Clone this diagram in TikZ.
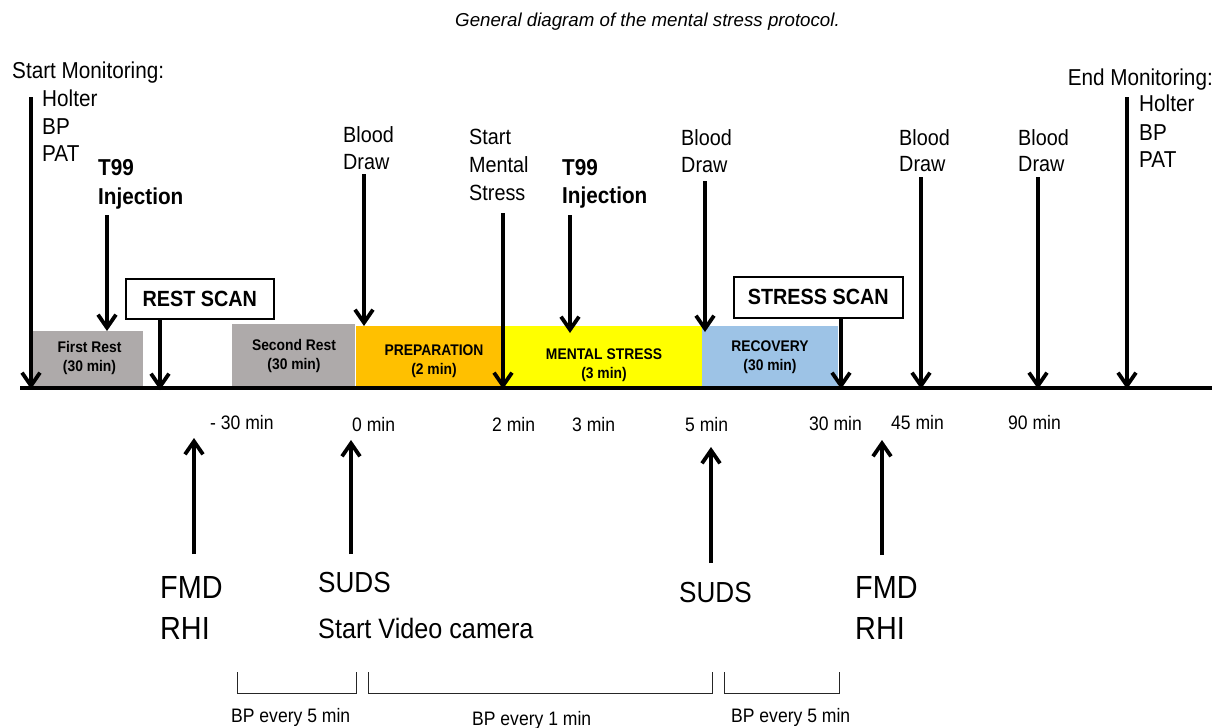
\documentclass[tikz,border=0pt]{standalone}
\usepackage{fontspec}
\setmainfont{Liberation Sans}[FakeStretch=0.9]
\newfontfamily\titlefont{Liberation Sans}
\usetikzlibrary{arrows.meta}
\definecolor{restgray}{HTML}{AEAAAA}
\definecolor{prepor}{HTML}{FFC000}
\definecolor{msyel}{HTML}{FFFF00}
\definecolor{recblue}{HTML}{9DC3E6}
\begin{document}
\begin{tikzpicture}[x=1pt,y=-1pt,
  txt/.style={inner sep=0pt, anchor=base west, font=\fontsize{23}{28}\selectfont},
  bd/.style={inner sep=0pt, anchor=base west, font=\fontsize{22}{26}\selectfont},
  inj/.style={inner sep=0pt, anchor=base west, font=\fontsize{23}{28}\selectfont\bfseries},
  tm/.style={inner sep=0pt, anchor=base west, font=\fontsize{19.5}{23}\selectfont},
  big/.style={inner sep=0pt, anchor=base west, font=\fontsize{32}{38}\selectfont},
  suds/.style={inner sep=0pt, anchor=base west, font=\fontsize{29}{34}\selectfont},
  phase/.style={draw=none, inner sep=0pt, anchor=north west},
  plbl/.style={inner sep=0pt, align=center, font=\fontsize{15.4}{19}\selectfont\bfseries},
  scan/.style={draw=black, line width=1.5pt, fill=white, inner sep=0pt, anchor=north west, font=\fontsize{22}{26}\selectfont\bfseries},
  darr/.style={line width=3.8pt, -{Straight Barb[length=13pt,width=18pt]}},
  brk/.style={line width=1pt, draw=black!85},
]
\useasboundingbox (0,0) rectangle (1227,728);

% title
\node[inner sep=0pt, anchor=base west, font=\titlefont\itshape\fontsize{18.7}{22}\selectfont] (title) at (455,27) {General diagram of the mental stress protocol.};

% phase boxes
\node[phase, fill=restgray, minimum width=110pt, minimum height=57pt] (fr) at (33,331) {};
\node[phase, fill=restgray, minimum width=123pt, minimum height=64pt] (sr) at (232,324) {};
\node[phase, fill=prepor, minimum width=147pt, minimum height=62pt] (prep) at (356,326) {};
\node[phase, fill=msyel, minimum width=199pt, minimum height=62pt] (ms) at (503,326) {};
\node[phase, fill=recblue, minimum width=136pt, minimum height=62pt] (rec) at (702,326) {};

\node[plbl] (frl) at (89.5,358) {First Rest\\(30 min)};
\node[plbl] (srl) at (294,356) {Second Rest\\(30 min)};
\node[plbl] (prepl) at (434,361) {PREPARATION\\(2 min)};
\node[plbl] (msl) at (604,365) {MENTAL STRESS\\(3 min)};
\node[plbl] (recl) at (770,357) {RECOVERY\\(30 min)};

% timeline
\coordinate (tl0) at (20,388);
\coordinate (tl1) at (1212,388);
\draw[line width=4.5pt] (tl0) -- (tl1);

% scan boxes
\node[scan, minimum width=148pt, minimum height=40pt] (rscan) at (125,278) {REST SCAN};
\node[scan, minimum width=169pt, minimum height=41pt] (sscan) at (733,276) {STRESS SCAN};

% top labels
\node[txt] (sm) at (12,78) {Start Monitoring:};
\node[txt] (sh) at (42,106) {Holter};
\node[txt] (sb) at (42,134) {BP};
\node[txt] (sp) at (42,161) {PAT};

\node[inj] (t1a) at (98,175) {T99};
\node[inj] (t1b) at (98,204) {Injection};

\node[bd] (b1a) at (343,142) {Blood};
\node[bd] (b1b) at (343,169) {Draw};

\node[bd] (m1) at (469,144) {Start};
\node[bd] (m2) at (469,172) {Mental};
\node[bd] (m3) at (469,200) {Stress};

\node[inj] (t2a) at (562,175) {T99};
\node[inj] (t2b) at (562,203) {Injection};

\node[bd] (b2a) at (681,145) {Blood};
\node[bd] (b2b) at (681,172) {Draw};
\node[bd] (b3a) at (899,145) {Blood};
\node[bd] (b3b) at (899,171) {Draw};
\node[bd] (b4a) at (1018,145) {Blood};
\node[bd] (b4b) at (1018,171) {Draw};

\node[txt, anchor=base east] (emon) at (1213,85) {End Monitoring:};
\node[txt] (eh) at (1139,111) {Holter};
\node[txt] (eb) at (1139,140) {BP};
\node[txt] (ep) at (1139,167) {PAT};

% down arrows
\coordinate (a1s) at (31,97);   \coordinate (a1e) at (31,389);
\coordinate (a2s) at (107,215); \coordinate (a2e) at (107,331);
\coordinate (a3s) at (160,318); \coordinate (a3e) at (160,390);
\coordinate (a4s) at (364,174); \coordinate (a4e) at (364,326);
\coordinate (a5s) at (503,213); \coordinate (a5e) at (503,389);
\coordinate (a6s) at (570,215); \coordinate (a6e) at (570,333);
\coordinate (a7s) at (705,181); \coordinate (a7e) at (705,332);
\coordinate (a8s) at (841,317); \coordinate (a8e) at (841,389);
\coordinate (a9s) at (921,177); \coordinate (a9e) at (921,389);
\coordinate (a10s) at (1038,177); \coordinate (a10e) at (1038,389);
\coordinate (a11s) at (1127,97); \coordinate (a11e) at (1127,389);
\foreach \i in {1,...,11} \draw[darr] (a\i s) -- (a\i e);

% time labels
\node[tm] (tm30) at (210,429) {- 30 min};
\node[tm] (t0) at (352,431) {0 min};
\node[tm] (t2) at (492,431) {2 min};
\node[tm] (t3) at (572,431) {3 min};
\node[tm] (t5) at (685,431) {5 min};
\node[tm] (t30) at (809,430) {30 min};
\node[tm] (t45) at (891,429) {45 min};
\node[tm] (t90) at (1008,429) {90 min};

% bottom labels
\node[big] (f1a) at (160,598.5) {FMD};
\node[big] (f1b) at (160,639.5) {RHI};
\node[suds] (s1) at (318,592.4) {SUDS};
\node[inner sep=0pt, anchor=base west, font=\fontsize{28}{33}\selectfont] (svc) at (318,638) {Start Video camera};
\node[suds] (s2) at (679,602.4) {SUDS};
\node[big] (f2a) at (855,598.5) {FMD};
\node[big] (f2b) at (855,639.5) {RHI};

% up arrows
\coordinate (u1s) at (194,554); \coordinate (u1e) at (194,438);
\coordinate (u2s) at (351,554); \coordinate (u2e) at (351,440);
\coordinate (u3s) at (711,563); \coordinate (u3e) at (711,447);
\coordinate (u4s) at (882,555); \coordinate (u4e) at (882,440);
\foreach \i in {1,...,4} \draw[darr] (u\i s) -- (u\i e);

% brackets
\coordinate (k1a) at (237,672); \coordinate (k1b) at (356,672);
\coordinate (k2a) at (368,672); \coordinate (k2b) at (712,672);
\coordinate (k3a) at (724,672); \coordinate (k3b) at (839,672);
\draw[brk] (k1a) -- ++(0,21) -| (k1b);
\draw[brk] (k2a) -- ++(0,21) -| (k2b);
\draw[brk] (k3a) -- ++(0,21) -| (k3b);

\node[tm] (bp1) at (231,722) {BP every 5 min};
\node[tm] (bp2) at (472,725) {BP every 1 min};
\node[tm] (bp3) at (731,722) {BP every 5 min};
\end{tikzpicture}
\end{document}
